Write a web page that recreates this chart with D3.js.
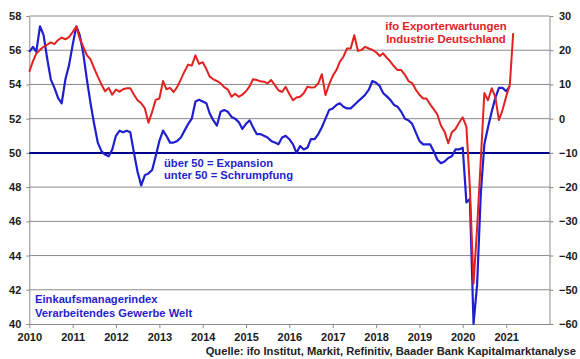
<!DOCTYPE html>
<html>
<head>
<meta charset="utf-8">
<script src="https://cdn.jsdelivr.net/npm/d3@7/dist/d3.min.js"></script>
<style>
html,body{margin:0;padding:0;background:#fff;}
svg{display:block;font-family:"Liberation Sans",Arial,sans-serif;}
</style>
</head>
<body>
<svg id="chart" width="580" height="359"></svg>
<script>
// ---- data (monthly, starting Jan 2010) ----
const startYear = 2010;
const startMonth = 0;
// Einkaufsmanagerindex Verarbeitendes Gewerbe Welt (left axis), Jan 2010 - Feb 2021
const pmiValues = [
  55.9,56.2,55.9,57.4,56.9,55.5,54.3,53.8,53.2,52.9,54.3,55.1,
  56.3,57.4,56.9,55.8,54.3,52.9,51.7,50.6,50.1,49.9,49.8,50.2,
  51.0,51.3,51.2,51.3,51.2,50.0,48.9,48.1,48.7,48.8,49.0,49.8,
  50.7,51.3,51.0,50.6,50.6,50.7,50.9,51.3,51.7,52.0,53.0,53.1,
  53.0,52.9,52.3,51.9,51.6,52.4,52.5,52.4,52.1,52.0,51.8,51.4,
  51.7,51.9,51.5,51.1,51.1,51.0,50.9,50.7,50.6,50.5,50.9,51.0,
  50.8,50.5,50.0,50.4,50.2,50.3,50.8,50.8,51.1,51.5,52.0,52.5,
  52.6,52.8,52.9,52.7,52.6,52.6,52.8,53.0,53.2,53.4,53.7,54.2,
  54.1,53.9,53.5,53.3,53.1,52.8,52.7,52.4,52.0,51.9,51.7,51.2,
  50.7,50.5,50.5,50.5,50.1,49.6,49.4,49.5,49.7,49.8,50.2,50.2,
  50.3,47.1,47.3,40.0,42.3,47.6,50.5,51.5,52.4,53.2,53.8,53.8,
  53.6,53.9
];
// ifo Exporterwartungen Industrie Deutschland (right axis), Jan 2010 - Mar 2021
const ifoValues = [
  13.7,16.8,19.0,20.1,21.0,21.6,22.3,21.8,23.0,23.7,23.2,23.8,
  25.3,26.9,23.5,21.0,18.6,17.3,14.8,12.3,10.0,8.0,9.0,7.0,
  8.5,7.9,8.6,8.9,8.9,7.0,5.4,4.5,3.0,-1.2,2.0,5.5,
  5.9,11.0,8.6,9.0,7.8,9.3,11.5,13.8,15.8,15.5,18.5,16.0,
  16.5,14.5,12.3,11.5,11.0,10.3,9.2,8.5,6.4,7.3,6.4,7.0,
  8.0,9.5,11.5,11.3,10.9,10.8,10.3,11.3,9.8,8.3,7.8,9.3,
  7.2,5.4,6.2,6.4,7.4,9.3,9.1,9.2,10.3,13.0,6.9,10.0,
  12.5,14.2,16.6,18.1,20.5,20.5,24.4,19.8,20.1,21.0,20.5,20.1,
  19.4,18.3,19.1,17.8,16.7,15.3,14.2,14.2,12.8,11.0,10.4,8.5,
  7.0,5.9,5.9,4.2,2.8,1.2,-2.0,-3.8,-7.2,-4.0,-3.0,-1.2,
  0.4,-2.4,-20.0,-48.2,-32.0,-12.0,7.5,5.4,8.9,6.4,-0.4,2.5,
  6.5,10.0,25.0
];
const yearTicks = [2010,2011,2012,2013,2014,2015,2016,2017,2018,2019,2020,2021];
const leftTicks = [40,42,44,46,48,50,52,54,56,58];
const rightTicks = [-60,-50,-40,-30,-20,-10,0,10,20,30];
const thresholdValue = 50;
const ifoLabel = ["ifo Exporterwartungen", "Industrie Deutschland"];
const thresholdLabel = ["über 50 = Expansion", "unter 50 = Schrumpfung"];
const pmiLabel = ["Einkaufsmanagerindex", "Verarbeitendes Gewerbe Welt"];
const sourceText = "Quelle: ifo Institut, Markit, Refinitiv, Baader Bank Kapitalmarktanalyse";

// ---- layout ----
const L = 29.3, R = 549.5, T = 16, B = 324;
const BLUE = "#1f1fcf", RED = "#e3211f", NAVY = "#000088", GRID = "#8a8a8a", TXT = "#1a1a1a";

const svg = d3.select("#chart");
const x = d3.scaleTime().domain([new Date(2010,0,1), new Date(2022,0,1)]).range([L, R]);
const yL = d3.scaleLinear().domain([40,58]).range([B, T]);
const yR = d3.scaleLinear().domain([-60,30]).range([B, T]);

const pmi = pmiValues.map((v,i)=>({d:new Date(startYear,startMonth+i,1), v}));
const ifo = ifoValues.map((v,i)=>({d:new Date(startYear,startMonth+i,1), v}));

// gridlines
svg.append("g").selectAll("line")
  .data(leftTicks.filter(t=>t!==40 && t!==thresholdValue))
  .join("line")
  .attr("x1", L).attr("x2", R)
  .attr("y1", d=>yL(d)).attr("y2", d=>yL(d))
  .attr("stroke", GRID).attr("stroke-width", 1);

// axes
const fontSpec = g => g.selectAll("text")
  .attr("font-family", '"Liberation Sans",Arial,sans-serif')
  .attr("font-weight", "bold").attr("font-size", 11).attr("fill", TXT);

const gx = svg.append("g").attr("transform", `translate(0,${B})`)
  .call(d3.axisBottom(x).tickValues(yearTicks.map(y=>new Date(y,0,1)))
    .tickFormat(d3.timeFormat("%Y")).tickSize(4).tickSizeOuter(0).tickPadding(5));
gx.call(fontSpec);
gx.selectAll("line,path").attr("stroke", GRID);

const gl = svg.append("g").attr("transform", `translate(${L},0)`)
  .call(d3.axisLeft(yL).tickValues(leftTicks).tickFormat(d3.format("d")).tickSize(3).tickSizeOuter(0).tickPadding(5));
gl.call(fontSpec);
gl.selectAll("line,path").attr("stroke", GRID);

const gr = svg.append("g").attr("transform", `translate(${R},0)`)
  .call(d3.axisRight(yR).tickValues(rightTicks).tickFormat(d3.format("d")).tickSize(4).tickSizeOuter(0).tickPadding(5.5));
gr.call(fontSpec);
gr.selectAll("line,path").attr("stroke", GRID);

// threshold line at 50
svg.append("line").attr("x1", L).attr("x2", R)
  .attr("y1", yL(thresholdValue)).attr("y2", yL(thresholdValue))
  .attr("stroke", NAVY).attr("stroke-width", 2);

// series
svg.append("path").datum(pmi)
  .attr("d", d3.line().x(d=>x(d.d)).y(d=>yL(d.v)))
  .attr("fill","none").attr("stroke", BLUE).attr("stroke-width", 2.2).attr("stroke-linejoin","round");
svg.append("path").datum(ifo)
  .attr("d", d3.line().x(d=>x(d.d)).y(d=>yR(d.v)))
  .attr("fill","none").attr("stroke", RED).attr("stroke-width", 2).attr("stroke-linejoin","round");

// labels
const lab = (txt, xx, yy, col, anchor, size) => svg.append("text")
  .attr("x", xx).attr("y", yy).attr("fill", col).attr("text-anchor", anchor)
  .attr("font-weight", "bold").attr("font-size", size).text(txt);

lab(ifoLabel[0], 446, 30, RED, "middle", 11.4);
lab(ifoLabel[1], 446, 42.5, RED, "middle", 11.4);
lab(thresholdLabel[0], 164, 166.5, BLUE, "start", 11.2);
lab(thresholdLabel[1], 164, 178.5, BLUE, "start", 11.2);
lab(pmiLabel[0], 35, 303, BLUE, "start", 11.2);
lab(pmiLabel[1], 35, 316.5, BLUE, "start", 11.2);
lab(sourceText, 576, 354.5, "#222", "end", 11.2);
</script>
</body>
</html>
